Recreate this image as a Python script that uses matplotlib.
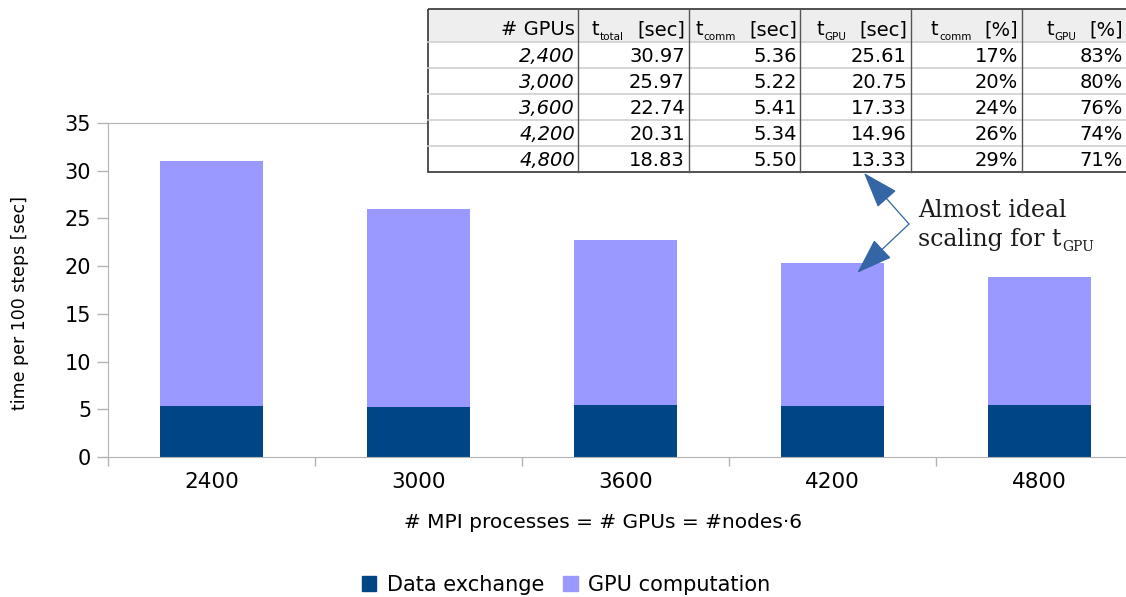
import matplotlib
matplotlib.use("Agg")
import matplotlib.pyplot as plt
from matplotlib.patches import Rectangle, Patch
import numpy as np

# timings per 100 steps
gpus = [2400, 3000, 3600, 4200, 4800]
gpu_labels = ["2,400", "3,000", "3,600", "4,200", "4,800"]
t_total = [30.97, 25.97, 22.74, 20.31, 18.83]
t_comm = [5.36, 5.22, 5.41, 5.34, 5.50]
t_gpu = [25.61, 20.75, 17.33, 14.96, 13.33]
pct_comm = [17, 20, 24, 26, 29]
pct_gpu = [83, 80, 76, 74, 71]

DARK = "#004586"
LIGHT = "#9999ff"
GRAY = "#b3b3b3"

W, H = 1126, 597
fig = plt.figure(figsize=(W / 100, H / 100), dpi=100)

# plot area runs a bit past the right edge of the figure
ax = fig.add_axes([108 / W, (H - 457) / H, 1035 / W, 334 / H])
x = np.arange(len(gpus))
ax.bar(x, t_comm, 0.5, color=DARK, label="Data exchange")
ax.bar(x, t_gpu, 0.5, bottom=t_comm, color=LIGHT, label="GPU computation")
ax.set_xlim(-0.5, len(gpus) - 0.5)
ax.set_ylim(0, 35)
ax.set_yticks(range(0, 36, 5))
ax.set_xticks(x)
ax.set_xticklabels([str(g) for g in gpus], fontsize=15.5)
ax.set_xticks(np.arange(-0.5, len(gpus), 1), minor=True)
ax.tick_params(axis="x", which="major", length=0, pad=11)
ax.tick_params(axis="x", which="minor", length=6.5, color=GRAY, width=1)
ax.tick_params(axis="y", length=8, color=GRAY, width=1, pad=4, labelsize=15)
for s in ["left", "bottom", "top"]:
    ax.spines[s].set_color(GRAY)
ax.spines["right"].set_visible(False)

fig.text(20 / W, 1 - 303 / H, "time per 100 steps [sec]", rotation=90,
         ha="center", va="center", fontsize=12.5)
fig.text(603 / W, 1 - 522 / H, "# MPI processes = # GPUs = #nodes\u00b76",
         ha="center", va="center", fontsize=14.5)

handles = [Patch(color=DARK, label="Data exchange"),
           Patch(color=LIGHT, label="GPU computation")]
fig.legend(handles=handles, ncol=2, loc="center",
           bbox_to_anchor=(566 / W, 1 - 585 / H), frameon=False, fontsize=15,
           handlelength=0.7, handleheight=0.7, handletextpad=0.5,
           columnspacing=0.9, borderpad=0)

# overlay in pixel units for the table and the note
ov = fig.add_axes([0, 0, 1, 1], zorder=5)
ov.set_xlim(0, W)
ov.set_ylim(H, 0)
ov.axis("off")
renderer = fig.canvas.get_renderer()
inv = ov.transData.inverted()


def left_edge(txt):
    bb = txt.get_window_extent(renderer)
    return inv.transform((bb.x0, bb.y0))[0]


def right_edge(txt):
    bb = txt.get_window_extent(renderer)
    return inv.transform((bb.x1, bb.y0))[0]


col_edges = [428, 578, 689, 800, 911, 1022, 1133]
row_edges = [9, 42, 68, 94, 120, 146, 172]
# last column is cut by the figure edge, keep its text inside
text_right = [575, 685, 797, 907, 1018, 1123]
tw = col_edges[-1] - col_edges[0]
ov.add_patch(Rectangle((col_edges[0], row_edges[0]), tw, row_edges[1] - row_edges[0],
                       facecolor="#eeeeee", edgecolor="none"))
ov.add_patch(Rectangle((col_edges[0], row_edges[1]), tw, row_edges[-1] - row_edges[1],
                       facecolor="white", edgecolor="none"))
for yy in row_edges[1:-1]:
    ov.plot([col_edges[0], col_edges[-1]], [yy, yy], color="#d0d0d0", lw=1.2)
for xx in col_edges[1:-1]:
    ov.plot([xx, xx], [row_edges[0], row_edges[-1]], color="#555555", lw=1)
ov.add_patch(Rectangle((col_edges[0], row_edges[0]), tw, row_edges[-1] - row_edges[0],
                       facecolor="none", edgecolor="#333333", lw=1.2))

fs = 14
# header
ov.text(text_right[0], row_edges[1] - 7, "# GPUs", ha="right", va="baseline", fontsize=fs)
headers = [("total", "[sec]"), ("comm", "[sec]"), ("GPU", "[sec]"),
           ("comm", "[%]"), ("GPU", "[%]")]
for i, (sub, unit) in enumerate(headers):
    u = ov.text(text_right[i + 1], row_edges[1] - 7, unit, ha="right", va="baseline",
                fontsize=fs)
    s = ov.text(left_edge(u) - 13, row_edges[1] - 2, sub, ha="right", va="baseline",
                fontsize=7.5)
    ov.text(left_edge(s) - 0.5, row_edges[1] - 7, "t", ha="right", va="baseline",
            fontsize=fs)

# body
for r in range(len(gpus)):
    cells = [gpu_labels[r], f"{t_total[r]:.2f}", f"{t_comm[r]:.2f}", f"{t_gpu[r]:.2f}",
             f"{pct_comm[r]}%", f"{pct_gpu[r]}%"]
    base = row_edges[r + 2] - 6
    for c, val in enumerate(cells):
        ov.text(text_right[c], base, val, ha="right", va="baseline",
                fontsize=fs, style="italic" if c == 0 else "normal")

# note with arrows
arrow_kw = dict(arrowstyle="-|>,head_length=2.3,head_width=0.8", color="#3465a4",
                lw=0.9, shrinkA=0, shrinkB=0, mutation_scale=10)
ov.annotate("", xy=(864, 173), xytext=(909, 224), arrowprops=arrow_kw)
ov.annotate("", xy=(3.12, t_total[3] - 1), xycoords=ax.transData,
            xytext=(909, 224), textcoords="data", arrowprops=arrow_kw)

ov.text(918, 217, "Almost ideal", family="DejaVu Serif", fontsize=17,
        va="baseline", color="#1a1a1a")
t2 = ov.text(918, 246, "scaling for t", family="DejaVu Serif", fontsize=17,
             va="baseline", color="#1a1a1a")
ov.text(right_edge(t2) + 1, 251, "GPU", family="DejaVu Serif", fontsize=10,
        va="baseline", color="#1a1a1a")

fig.savefig("out.png", dpi=100)
